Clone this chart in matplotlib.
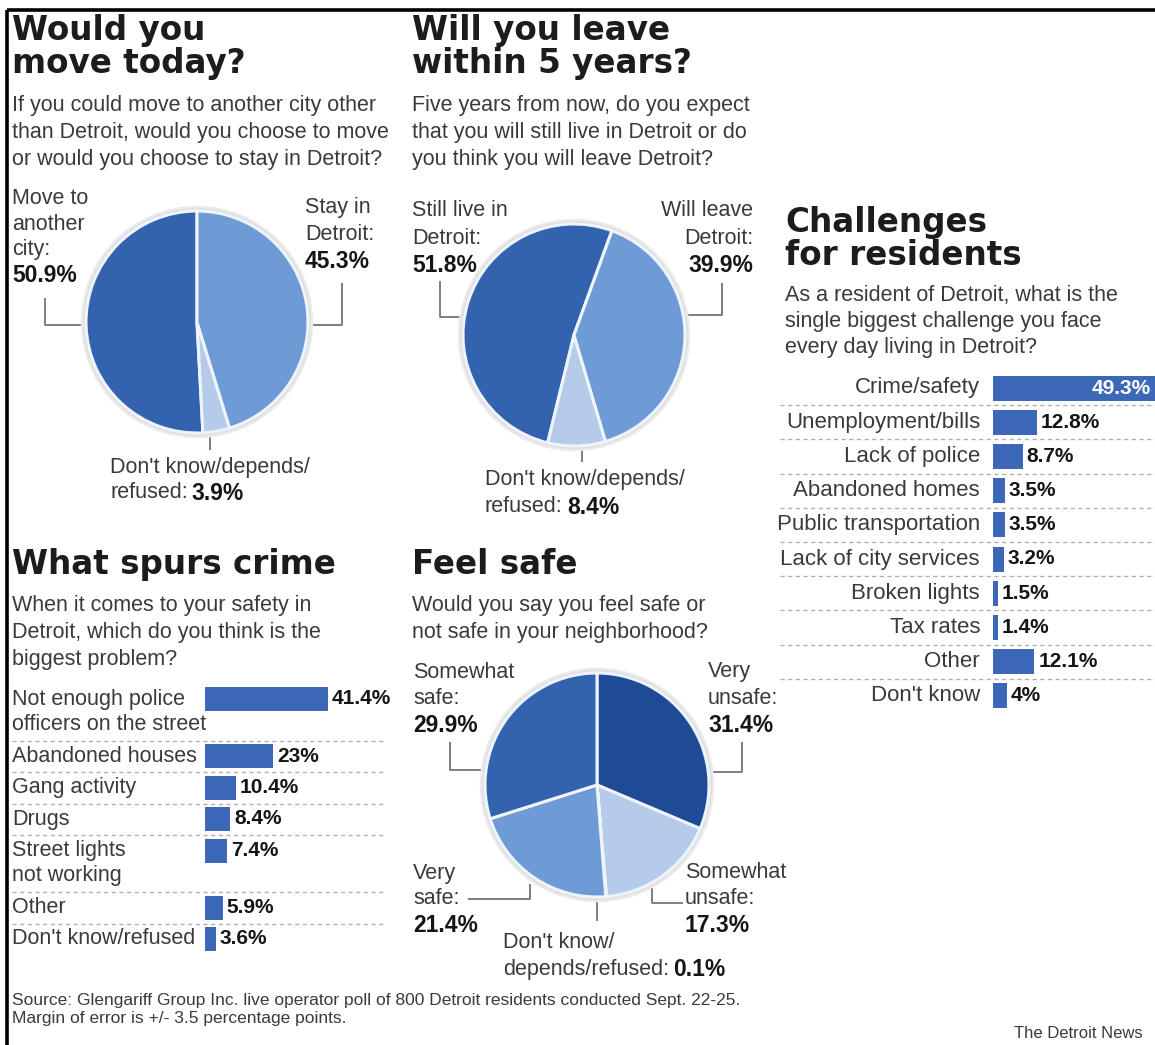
import matplotlib
matplotlib.use("Agg")
import matplotlib.pyplot as plt

W, H = 1155, 1045

# survey answers
move_labels = ["Move to another city", "Don't know/depends/refused", "Stay in Detroit"]
move_values = [50.9, 3.9, 45.3]

leave_labels = ["Still live in Detroit", "Don't know/depends/refused", "Will leave Detroit"]
leave_values = [51.8, 8.4, 39.9]

safe_labels = ["Very unsafe", "Somewhat unsafe", "Don't know/depends/refused",
               "Very safe", "Somewhat safe"]
safe_values = [31.4, 17.3, 0.1, 21.4, 29.9]

crime_labels = ["Not enough police\nofficers on the street", "Abandoned houses",
                "Gang activity", "Drugs", "Street lights\nnot working", "Other",
                "Don't know/refused"]
crime_values = [41.4, 23, 10.4, 8.4, 7.4, 5.9, 3.6]

challenge_labels = ["Crime/safety", "Unemployment/bills", "Lack of police",
                    "Abandoned homes", "Public transportation", "Lack of city services",
                    "Broken lights", "Tax rates", "Other", "Don't know"]
challenge_values = [49.3, 12.8, 8.7, 3.5, 3.5, 3.2, 1.5, 1.4, 12.1, 4]

DARKEST = "#1f4a96"
DARK = "#3363ae"
MID = "#6e9bd6"
LIGHT = "#b4cbea"
BAR = "#3d68b8"
TXT = "#3a3a3a"
INK = "#151515"
RULE = "#b0b0b0"

HEAD = ["DejaVu Sans"]
BODY = ["Liberation Sans", "DejaVu Sans"]

fig = plt.figure(figsize=(W / 100, H / 100), dpi=100)
fig.patch.set_facecolor("white")
ax0 = fig.add_axes([0, 0, 1, 1])
ax0.set_xlim(0, W)
ax0.set_ylim(H, 0)
ax0.axis("off")
renderer = fig.canvas.get_renderer()


def box(x, y, w, h):
    return [x / W, 1 - (y + h) / H, w / W, h / H]


def say(x, y, s, size=15.5, bold=False, color=TXT, ha="left", va="center"):
    return ax0.text(x, y, s, fontsize=size, fontweight="bold" if bold else "normal",
                    color=color, ha=ha, va=va, family=BODY)


def value(x, y, s, ha="left"):
    return say(x, y, s, size=16.5, bold=True, color=INK, ha=ha)


def say_mixed(x, y, plain, num):
    t = say(x, y, plain)
    w = t.get_window_extent(renderer).width
    value(x + w + 4, y, num)


def lines(x, y, rows, dy=26, **kw):
    for i, s in enumerate(rows):
        say(x, y + i * dy, s, **kw)


def title(x, y, rows):
    for i, s in enumerate(rows):
        ax0.text(x, y + i * 33, s, fontsize=23.5, fontweight="bold", color="#1c1c1c",
                 family=HEAD, va="baseline")


def leader(xs, ys):
    ax0.plot(xs, ys, color="#6a6a6a", lw=1.2, solid_capstyle="butt")


def pie(cx, cy, r, values, colors, start, ccw=True):
    pad = 1.08
    ax = fig.add_axes(box(cx - r * pad, cy - r * pad, 2 * r * pad, 2 * r * pad))
    # faint halo around the disc
    ax.add_patch(plt.Circle((0, 0), 1.04, color="#ebebeb", zorder=0))
    ax.add_patch(plt.Circle((0, 0), 1.02, color="#dedede", zorder=0))
    ax.pie(values, colors=colors, radius=1, startangle=start, counterclock=ccw,
           wedgeprops=dict(edgecolor="#eef4fb", linewidth=2.2))
    ax.set_xlim(-pad, pad)
    ax.set_ylim(-pad, pad)
    ax.axis("off")


def bars(x0, width_px, scale, ys, values, height):
    ax = fig.add_axes(box(x0, 0, width_px, H))
    xmax = width_px / scale
    ax.set_xlim(0, xmax)
    ax.set_ylim(H, 0)
    ax.axis("off")
    ax.barh(ys, values, height=height, color=BAR)
    for y, v in zip(ys, values):
        if v > xmax:
            ax.text(xmax - 4 / scale, y, f"{v:g}%", color="white", fontsize=15,
                    fontweight="bold", ha="right", va="center", family=BODY)
        else:
            ax.text(v + 4 / scale, y, f"{v:g}%", color=INK, fontsize=15,
                    fontweight="bold", ha="left", va="center", family=BODY)
    return ax


# frame
ax0.plot([7, W], [10, 10], color="black", lw=2.6, solid_capstyle="butt")
ax0.plot([7, 7], [10, H], color="black", lw=2.6, solid_capstyle="butt")

# --- Would you move today? ---
title(12, 40, ["Would you", "move today?"])
lines(12, 105, ["If you could move to another city other",
                "than Detroit, would you choose to move",
                "or would you choose to stay in Detroit?"], dy=27.5)
pie(197, 322, 111, move_values, [DARK, LIGHT, MID], 90)
lines(12, 199, ["Move to", "another", "city:"], dy=25)
value(12, 275, "50.9%")
leader([45, 45, 86], [298, 325, 325])
lines(305, 207, ["Stay in", "Detroit:"], dy=27)
value(305, 261, "45.3%")
leader([342, 342, 308], [283, 325, 325])
say(110, 467, "Don't know/depends/")
say_mixed(110, 493, "refused:", "3.9%")
leader([210, 210], [433, 450])

# --- Will you leave within 5 years? ---
title(412, 40, ["Will you leave", "within 5 years?"])
lines(412, 105, ["Five years from now, do you expect",
                 "that you will still live in Detroit or do",
                 "you think you will leave Detroit?"], dy=27.5)
pie(574, 335, 111, leave_values, [DARK, LIGHT, MID], 70)
lines(412, 210, ["Still live in", "Detroit:"], dy=28)
value(412, 266, "51.8%")
leader([440, 440, 463], [281, 317, 317])
lines(753, 210, ["Will leave", "Detroit:"], dy=28, ha="right")
value(753, 266, "39.9%", ha="right")
leader([722, 722, 686], [283, 315, 315])
say(485, 480, "Don't know/depends/")
say_mixed(485, 507, "refused:", "8.4%")
leader([582, 582], [446, 462])

# --- Challenges for residents ---
title(785, 232, ["Challenges", "for residents"])
lines(785, 295, ["As a resident of Detroit, what is the",
                 "single biggest challenge you face",
                 "every day living in Detroit?"], dy=26.5)
ch_y = [388 + 34.2 * i for i in range(len(challenge_values))]
for y, s in zip(ch_y, challenge_labels):
    say(980, y, s, size=16, ha="right")
for a, b in zip(ch_y[:-1], ch_y[1:]):
    ax0.plot([780, W], [(a + b) / 2] * 2, color=RULE, lw=1, ls=(0, (3, 2.5)))
bars(993, W - 993, 3.4, ch_y, challenge_values, 25)

# --- What spurs crime ---
title(12, 574, ["What spurs crime"])
lines(12, 606, ["When it comes to your safety in",
                "Detroit, which do you think is the",
                "biggest problem?"], dy=26.5)
cr_y = []
y = 699
for s in crime_labels:
    cr_y.append(y)
    y += 31.5 + 25.5 * s.count("\n")
for yy, s in zip(cr_y, crime_labels):
    for k, part in enumerate(s.split("\n")):
        say(12, yy + k * 25.5, part, size=15.5)
for yy in cr_y[1:]:
    ax0.plot([12, 385], [yy - 15.5] * 2, color=RULE, lw=1, ls=(0, (3, 2.5)))
bars(205, 200, 2.97, cr_y, crime_values, 24)

# --- Feel safe ---
title(412, 574, ["Feel safe"])
lines(412, 606, ["Would you say you feel safe or",
                 "not safe in your neighborhood?"], dy=26.5)
pie(597, 785, 112, safe_values, [DARKEST, LIGHT, LIGHT, MID, DARK], 90, ccw=False)
lines(413, 672, ["Somewhat", "safe:"], dy=27)
value(413, 726, "29.9%")
leader([450, 450, 487], [742, 770, 770])
lines(708, 672, ["Very", "unsafe:"], dy=27)
value(708, 726, "31.4%")
leader([742, 742, 708], [742, 772, 772])
lines(413, 873, ["Very", "safe:"], dy=26)
value(413, 926, "21.4%")
leader([468, 530, 530], [899, 899, 884])
lines(685, 873, ["Somewhat", "unsafe:"], dy=26)
value(685, 926, "17.3%")
leader([683, 652, 652], [903, 903, 886])
say(503, 943, "Don't know/")
say_mixed(503, 970, "depends/refused:", "0.1%")
leader([597, 597], [898, 921])

# footer
say(12, 1000, "Source: Glengariff Group Inc. live operator poll of 800 Detroit residents "
    "conducted Sept. 22-25.", size=12.5)
say(12, 1019, "Margin of error is +/- 3.5 percentage points.", size=12.5)
say(1143, 1033, "The Detroit News", size=12, ha="right")

fig.savefig("out.png", dpi=100, facecolor="white")
